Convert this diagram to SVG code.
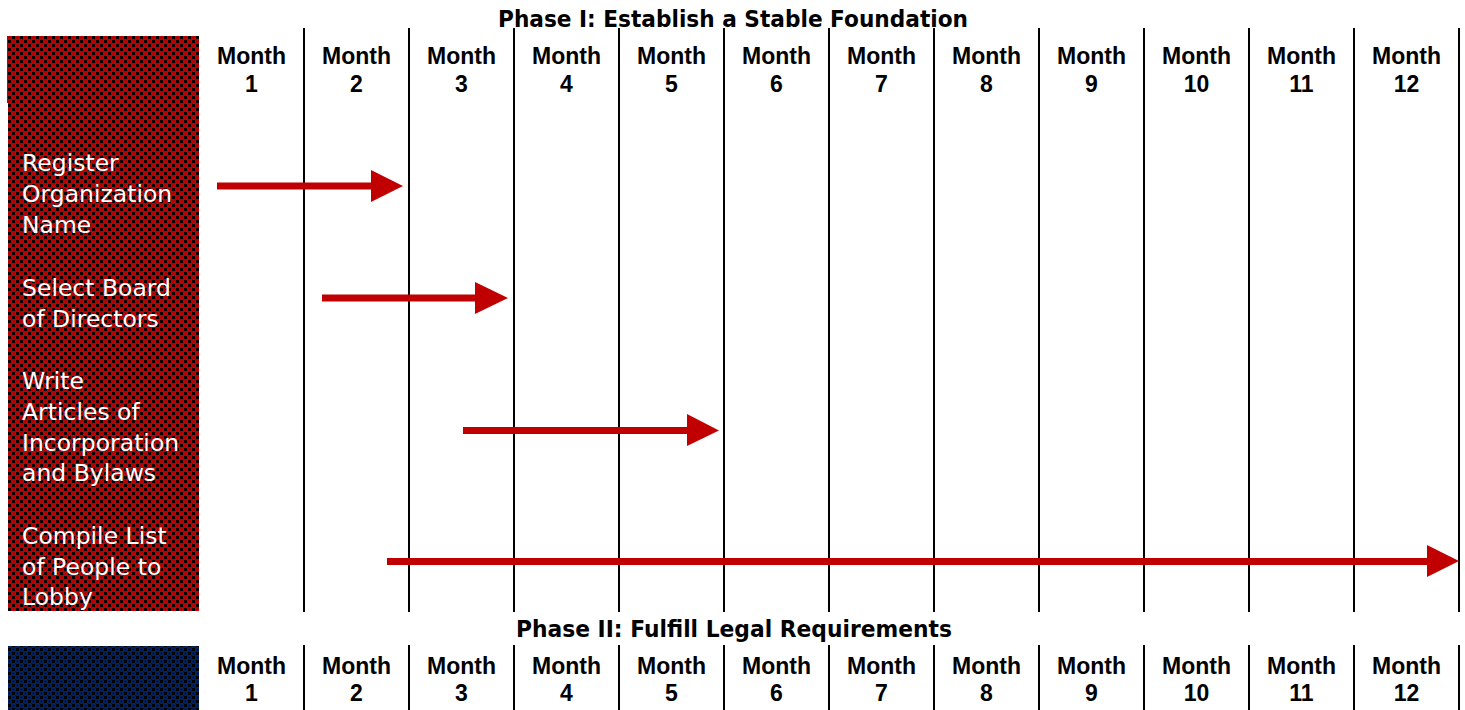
<svg xmlns="http://www.w3.org/2000/svg" width="1465" height="710" viewBox="0 0 1465 710">
<defs>
<pattern id="redPat" width="8" height="8" patternUnits="userSpaceOnUse">
<rect width="8" height="8" fill="#C00000"/>
<rect x="0" y="0" width="3" height="3" fill="#000"/>
<rect x="4" y="4" width="3" height="3" fill="#000"/>
<rect x="5" y="1" width="1" height="1" fill="#000"/>
<rect x="1" y="5" width="1" height="1" fill="#000"/>
</pattern>
<pattern id="bluePat" width="8" height="8" patternUnits="userSpaceOnUse">
<rect width="8" height="8" fill="#002060"/>
<rect x="0" y="0" width="3" height="3" fill="#000"/>
<rect x="4" y="4" width="3" height="3" fill="#000"/>
<rect x="5" y="1" width="1" height="1" fill="#000"/>
<rect x="1" y="5" width="1" height="1" fill="#000"/>
</pattern>
</defs>
<style>
.title{font-family:"DejaVu Sans",Verdana,sans-serif;font-weight:bold;font-size:23.5px;fill:#000;text-anchor:middle}
.hdr{font-family:"Liberation Sans",Arial,sans-serif;font-weight:bold;font-size:23px;fill:#000;text-anchor:middle}
.lbl{font-family:"DejaVu Sans",Verdana,sans-serif;font-size:23.5px;fill:#fff}
.grid{stroke:#000;stroke-width:2}
.shaft{fill:#C00000}
</style>
<rect width="1465" height="710" fill="#fff"/>

<g id="phase1">
<text class="title" x="733" y="27" textLength="470" lengthAdjust="spacingAndGlyphs">Phase I: Establish a Stable Foundation</text>
<rect x="7" y="36" width="192" height="67" fill="url(#redPat)"/>
<rect x="8" y="103" width="191" height="508" fill="url(#redPat)"/>
<g id="p1-grid">
<line class="grid" x1="304" y1="28" x2="304" y2="612"/>
<line class="grid" x1="409" y1="28" x2="409" y2="612"/>
<line class="grid" x1="514" y1="28" x2="514" y2="612"/>
<line class="grid" x1="619" y1="28" x2="619" y2="612"/>
<line class="grid" x1="724" y1="28" x2="724" y2="612"/>
<line class="grid" x1="829" y1="28" x2="829" y2="612"/>
<line class="grid" x1="934" y1="28" x2="934" y2="612"/>
<line class="grid" x1="1039" y1="28" x2="1039" y2="612"/>
<line class="grid" x1="1144" y1="28" x2="1144" y2="612"/>
<line class="grid" x1="1249" y1="28" x2="1249" y2="612"/>
<line class="grid" x1="1354" y1="28" x2="1354" y2="612"/>
<line class="grid" x1="1459" y1="28" x2="1459" y2="612"/>
</g>
<g id="p1-months">
<text class="hdr" x="251.5" y="64">Month</text><text class="hdr" x="251.5" y="92">1</text>
<text class="hdr" x="356.5" y="64">Month</text><text class="hdr" x="356.5" y="92">2</text>
<text class="hdr" x="461.5" y="64">Month</text><text class="hdr" x="461.5" y="92">3</text>
<text class="hdr" x="566.5" y="64">Month</text><text class="hdr" x="566.5" y="92">4</text>
<text class="hdr" x="671.5" y="64">Month</text><text class="hdr" x="671.5" y="92">5</text>
<text class="hdr" x="776.5" y="64">Month</text><text class="hdr" x="776.5" y="92">6</text>
<text class="hdr" x="881.5" y="64">Month</text><text class="hdr" x="881.5" y="92">7</text>
<text class="hdr" x="986.5" y="64">Month</text><text class="hdr" x="986.5" y="92">8</text>
<text class="hdr" x="1091.5" y="64">Month</text><text class="hdr" x="1091.5" y="92">9</text>
<text class="hdr" x="1196.5" y="64">Month</text><text class="hdr" x="1196.5" y="92">10</text>
<text class="hdr" x="1301.5" y="64">Month</text><text class="hdr" x="1301.5" y="92">11</text>
<text class="hdr" x="1406.5" y="64">Month</text><text class="hdr" x="1406.5" y="92">12</text>
</g>
</g>

<g id="task-register">
<text class="lbl" x="22" y="171">Register</text>
<text class="lbl" x="22" y="202">Organization</text>
<text class="lbl" x="22" y="233">Name</text>
</g>
<g id="task-board">
<text class="lbl" x="22" y="296">Select Board</text>
<text class="lbl" x="22" y="327">of Directors</text>
</g>
<g id="task-articles">
<text class="lbl" x="22" y="388.5">Write</text>
<text class="lbl" x="22" y="419.5">Articles of</text>
<text class="lbl" x="22" y="450.5">Incorporation</text>
<text class="lbl" x="22" y="481">and Bylaws</text>
</g>
<g id="task-lobby">
<text class="lbl" x="22" y="543.5">Compile List</text>
<text class="lbl" x="22" y="574.5">of People to</text>
<text class="lbl" x="22" y="605">Lobby</text>
</g>

<g id="connectors">
<rect class="shaft" x="217" y="182.5" width="156" height="7"/>
<polygon class="shaft" points="371,170 403,186 371,202"/>
<rect class="shaft" x="322" y="294.5" width="155" height="7"/>
<polygon class="shaft" points="475,282 508,298 475,314"/>
<rect class="shaft" x="463" y="427" width="226" height="7"/>
<polygon class="shaft" points="687,414 719,430.5 687,446"/>
<rect class="shaft" x="387" y="558" width="1042" height="7"/>
<polygon class="shaft" points="1427,545 1459,561 1427,577"/>
</g>

<g id="phase2">
<text class="title" x="734" y="637" textLength="436" lengthAdjust="spacingAndGlyphs">Phase II: Fulfill Legal Requirements</text>
<rect x="8" y="646" width="191" height="64" fill="url(#bluePat)"/>
<g id="p2-grid">
<line class="grid" x1="304" y1="645" x2="304" y2="710"/>
<line class="grid" x1="409" y1="645" x2="409" y2="710"/>
<line class="grid" x1="514" y1="645" x2="514" y2="710"/>
<line class="grid" x1="619" y1="645" x2="619" y2="710"/>
<line class="grid" x1="724" y1="645" x2="724" y2="710"/>
<line class="grid" x1="829" y1="645" x2="829" y2="710"/>
<line class="grid" x1="934" y1="645" x2="934" y2="710"/>
<line class="grid" x1="1039" y1="645" x2="1039" y2="710"/>
<line class="grid" x1="1144" y1="645" x2="1144" y2="710"/>
<line class="grid" x1="1249" y1="645" x2="1249" y2="710"/>
<line class="grid" x1="1354" y1="645" x2="1354" y2="710"/>
<line class="grid" x1="1459" y1="645" x2="1459" y2="710"/>
</g>
<g id="p2-months">
<text class="hdr" x="251.5" y="674">Month</text><text class="hdr" x="251.5" y="701">1</text>
<text class="hdr" x="356.5" y="674">Month</text><text class="hdr" x="356.5" y="701">2</text>
<text class="hdr" x="461.5" y="674">Month</text><text class="hdr" x="461.5" y="701">3</text>
<text class="hdr" x="566.5" y="674">Month</text><text class="hdr" x="566.5" y="701">4</text>
<text class="hdr" x="671.5" y="674">Month</text><text class="hdr" x="671.5" y="701">5</text>
<text class="hdr" x="776.5" y="674">Month</text><text class="hdr" x="776.5" y="701">6</text>
<text class="hdr" x="881.5" y="674">Month</text><text class="hdr" x="881.5" y="701">7</text>
<text class="hdr" x="986.5" y="674">Month</text><text class="hdr" x="986.5" y="701">8</text>
<text class="hdr" x="1091.5" y="674">Month</text><text class="hdr" x="1091.5" y="701">9</text>
<text class="hdr" x="1196.5" y="674">Month</text><text class="hdr" x="1196.5" y="701">10</text>
<text class="hdr" x="1301.5" y="674">Month</text><text class="hdr" x="1301.5" y="701">11</text>
<text class="hdr" x="1406.5" y="674">Month</text><text class="hdr" x="1406.5" y="701">12</text>
</g>
</g>
</svg>
